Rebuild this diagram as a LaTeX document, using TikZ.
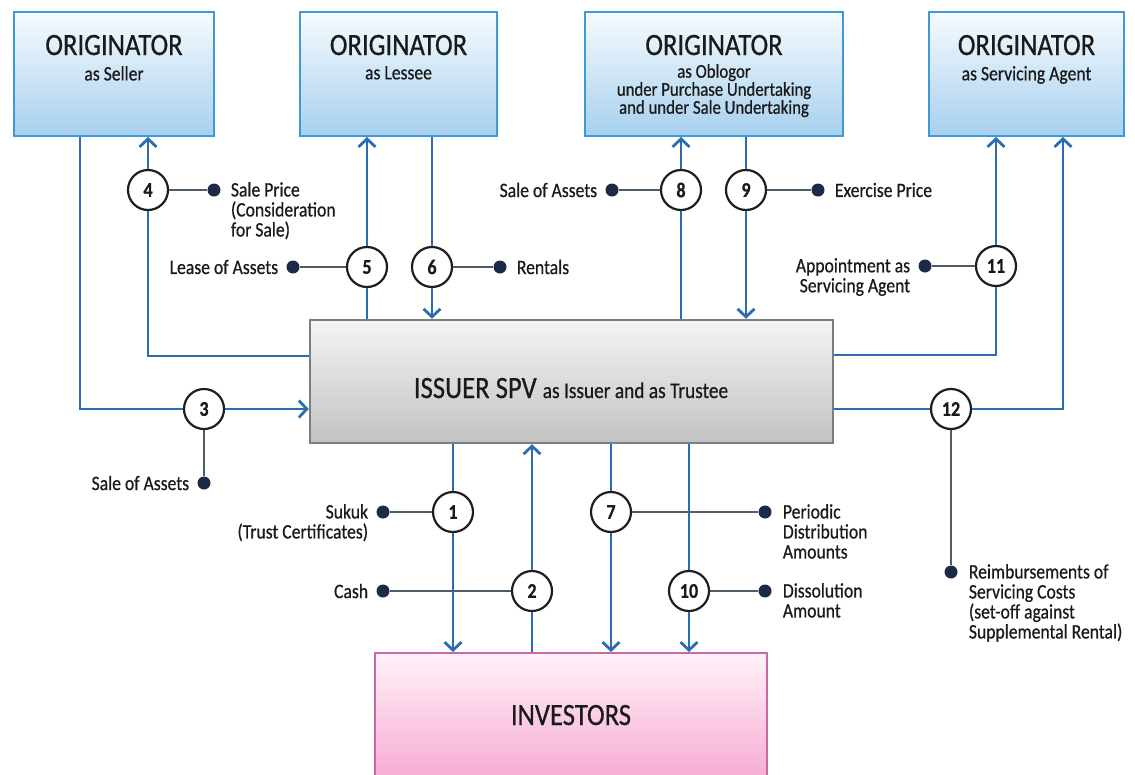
\documentclass[tikz,border=0pt]{standalone}
\usepackage{fontspec}
\setmainfont{Carlito}[FakeStretch=0.86,FakeBold=0.6]
\usetikzlibrary{arrows.meta}
\definecolor{flow}{HTML}{2A6DB3}
\definecolor{leadc}{HTML}{4E5C6A}
\definecolor{dotc}{HTML}{1B2A47}
\definecolor{numc}{HTML}{1E1E1E}
\definecolor{txt}{HTML}{1A1A1A}
\definecolor{oborder}{HTML}{3E9AD6}
\definecolor{otop}{HTML}{F7FBFE}
\definecolor{obot}{HTML}{A6D0EE}
\definecolor{sborder}{HTML}{7D7D7D}
\definecolor{stop}{HTML}{F4F4F4}
\definecolor{sbot}{HTML}{C2C2C2}
\definecolor{iborder}{HTML}{C76AA2}
\definecolor{itop}{HTML}{FFF2F8}
\definecolor{ibot}{HTML}{F5A3CF}
\newcommand{\fz}[2]{\fontsize{#1}{#2}\selectfont\lineskiplimit=-20pt\lineskip=0pt}
\begin{document}
\begin{tikzpicture}[x=1pt,y=-1pt,
  obox/.style={draw=oborder, line width=2pt, top color=otop, bottom color=obot, minimum width=#1, minimum height=124, inner sep=0},
  ttl/.style={font=\fz{31}{31}, text=txt, inner sep=0, anchor=base},
  sub/.style={font=\fz{20.5}{18}, text=txt, inner sep=0, anchor=north, align=center},
  num/.style={circle, draw=numc, line width=2.2pt, fill=white, minimum size=40, inner sep=0, font=\fz{21}{21}\bfseries, text=txt},
  dotn/.style={circle, fill=dotc, minimum size=13, inner sep=0},
  flowl/.style={draw=flow, line width=2.8pt},
  flowa/.style={flowl, -{Straight Barb[length=8pt,width=17pt]}},
  lead/.style={draw=leadc, line width=2.3pt},
  lbl/.style={font=\fz{20.5}{20}, text=txt, inner sep=0}]
\useasboundingbox (0,0) rectangle (1135,774);
\clip (0,0) rectangle (1135,774);
\fill[white] (0,0) rectangle (1135,774);

% boxes
\node[obox=200] (o1) at (114,74) {};
\node[obox=197] (o2) at (398.5,74) {};
\node[obox=258] (o3) at (714,74) {};
\node[obox=195] (o4) at (1026.5,74) {};
\node[draw=sborder, line width=2.5pt, top color=stop, bottom color=sbot, minimum width=523, minimum height=123, inner sep=0] (spv) at (571.5,381.5) {};
\node[draw=iborder, line width=2pt, top color=itop, bottom color=ibot, minimum width=392, minimum height=140, inner sep=0] (inv) at (571,723) {};

% box texts
\node[ttl] (t1) at (o1.north |- 0,55) {ORIGINATOR};
\node[ttl] (t2) at (o2.north |- 0,55) {ORIGINATOR};
\node[ttl] (t3) at (o3.north |- 0,55) {ORIGINATOR};
\node[ttl] (t4) at (o4.north |- 0,55) {ORIGINATOR};
\node[sub] (s1) at (o1.north |- 0,66) {as Seller};
\node[sub] (s2) at (o2.north |- 0,66) {as Lessee};
\node[sub, font=\fz{19.5}{18}] (s3) at (o3.north |- 0,64) {as Oblogor\\under Purchase Undertaking\\and under Sale Undertaking};
\node[sub] (s4) at (o4.north |- 0,66) {as Servicing Agent};
\node[anchor=base, inner sep=0, text=txt] (spvt) at (571,398) {\fz{31}{31}ISSUER SPV \fz{22.5}{22}as Issuer and as Trustee};
\node[ttl] (invt) at (571,725) {INVESTORS};

% circles
\node[num] (c1) at (453,512) {1};
\node[num] (c2) at (532,591) {2};
\node[num] (c3) at (204,409) {3};
\node[num] (c4) at (148,190) {4};
\node[num] (c5) at (367,267) {5};
\node[num] (c6) at (432,267) {6};
\node[num] (c7) at (611,512) {7};
\node[num] (c8) at (681,190) {8};
\node[num] (c9) at (746,190) {9};
\node[num] (c10) at (689,591) {10};
\node[num] (c11) at (996,266) {11};
\node[num] (c12) at (951,409) {12};

% dots
\node[dotn] (d1) at (383,512) {};
\node[dotn] (d2) at (383,591) {};
\node[dotn] (d3) at (204,483) {};
\node[dotn] (d4) at (214,190) {};
\node[dotn] (d5) at (293,267) {};
\node[dotn] (d6) at (500,267) {};
\node[dotn] (d7) at (765,512) {};
\node[dotn] (d8) at (612,190) {};
\node[dotn] (d9) at (818,190) {};
\node[dotn] (d10) at (765,591) {};
\node[dotn] (d11) at (925,266) {};
\node[dotn] (d12) at (951,572) {};

% labels
\node[lbl, anchor=north east, align=right, xshift=-8pt, yshift=8pt] (l1) at (d1.west) {Sukuk\\(Trust Certificates)};
\node[lbl, anchor=east, xshift=-8pt] (l2) at (d2.west) {Cash};
\node[lbl, anchor=east, xshift=-8pt] (l3) at (d3.west) {Sale of Assets};
\node[lbl, anchor=north west, align=left, xshift=10pt, yshift=8pt] (l4) at (d4.east) {Sale Price\\(Consideration\\for Sale)};
\node[lbl, anchor=east, xshift=-8pt] (l5) at (d5.west) {Lease of Assets};
\node[lbl, anchor=west, xshift=10pt] (l6) at (d6.east) {Rentals};
\node[lbl, anchor=north west, align=left, xshift=11pt, yshift=8pt] (l7) at (d7.east) {Periodic\\Distribution\\Amounts};
\node[lbl, anchor=east, xshift=-8pt] (l8) at (d8.west) {Sale of Assets};
\node[lbl, anchor=west, xshift=10pt] (l9) at (d9.east) {Exercise Price};
\node[lbl, anchor=north west, align=left, xshift=11pt, yshift=8pt] (l10) at (d10.east) {Dissolution\\Amount};
\node[lbl, anchor=north east, align=right, xshift=-8pt, yshift=8pt] (l11) at (d11.west) {Appointment as\\Servicing Agent};
\node[lbl, anchor=north west, align=left, xshift=11pt, yshift=8pt] (l12) at (d12.east) {Reimbursements of\\Servicing Costs\\(set-off against\\Supplemental Rental)};

% lead lines
\draw[lead] (c1) -- (d1);
\draw[lead] (c2) -- (d2);
\draw[lead] (c3) -- (d3);
\draw[lead] (c4) -- (d4);
\draw[lead] (c5) -- (d5);
\draw[lead] (c6) -- (d6);
\draw[lead] (c7) -- (d7);
\draw[lead] (c8) -- (d8);
\draw[lead] (c9) -- (d9);
\draw[lead] (c10) -- (d10);
\draw[lead] (c11) -- (d11);
\draw[lead] (c12) -- (d12);

% flows
\draw[flowl] (o1.south -| 80,0) |- (c3);
\draw[flowa] (c3) -- (c3 -| spv.west);
\draw[flowl] (spv.west |- 0,356) -| (c4);
\draw[flowa] (c4) -- (c4 |- o1.south);
\draw[flowl] (spv.north -| c5) -- (c5);
\draw[flowa] (c5) -- (c5 |- o2.south);
\draw[flowl] (o2.south -| c6) -- (c6);
\draw[flowa] (c6) -- (c6 |- spv.north);
\draw[flowl] (spv.north -| c8) -- (c8);
\draw[flowa] (c8) -- (c8 |- o3.south);
\draw[flowl] (o3.south -| c9) -- (c9);
\draw[flowa] (c9) -- (c9 |- spv.north);
\draw[flowl] (spv.east |- 0,355) -| (c11);
\draw[flowa] (c11) -- (c11 |- o4.south);
\draw[flowl] (spv.east |- c12) -- (c12);
\draw[flowa] (c12) -| (o4.south -| 1063,0);
\draw[flowl] (spv.south -| c1) -- (c1);
\draw[flowa] (c1) -- (c1 |- inv.north);
\draw[flowl] (inv.north -| c2) -- (c2);
\draw[flowa] (c2) -- (c2 |- spv.south);
\draw[flowl] (spv.south -| c7) -- (c7);
\draw[flowa] (c7) -- (c7 |- inv.north);
\draw[flowl] (spv.south -| c10) -- (c10);
\draw[flowa] (c10) -- (c10 |- inv.north);
\end{tikzpicture}
\end{document}
